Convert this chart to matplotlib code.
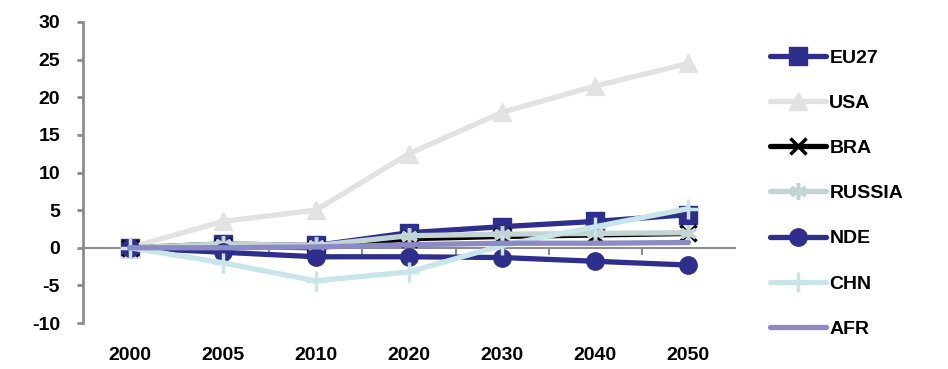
import matplotlib

matplotlib.use("Agg")
import matplotlib.pyplot as plt

plt.rcParams["font.family"] = ["Liberation Sans", "DejaVu Sans"]
plt.rcParams["font.weight"] = "bold"
plt.rcParams["axes.unicode_minus"] = False

years = ["2000", "2005", "2010", "2020", "2030", "2040", "2050"]

eu27 = [0, 0.5, 0.3, 2.0, 2.8, 3.5, 4.4]
usa = [0, 3.5, 5.0, 12.5, 18.0, 21.5, 24.5]
bra = [0, 0.2, 0.0, 1.2, 1.5, 1.7, 1.9]
russia = [0, 0.5, 0.3, 1.6, 1.8, 1.9, 2.0]
nde = [0, -0.6, -1.2, -1.2, -1.3, -1.8, -2.3]
chn = [0, -2.0, -4.4, -3.2, 0.3, 2.8, 5.2]
afr = [0, 0.0, 0.1, 0.4, 0.6, 0.6, 0.7]

# name, values, colour, marker, marker size
series = [
    ("EU27", eu27, "#2e2e8c", "s", 12.5),
    ("USA", usa, "#e2e2e2", "^", 13),
    ("BRA", bra, "#000000", "x", 11),
    ("RUSSIA", russia, "#c2d4d4", (6, 2, 0), 12),
    ("NDE", nde, "#2e2e8c", "o", 12.5),
    ("CHN", chn, "#c8e6ea", "+", 15),
    ("AFR", afr, "#8c8ac4", None, 0),
]

fig = plt.figure(figsize=(9.48, 3.69), dpi=100)
ax = fig.add_axes([83 / 948, 46 / 369, 652 / 948, 301 / 369])

x = list(range(len(years)))
for i, (name, vals, color, marker, ms) in enumerate(series):
    ax.plot(x, vals, color=color, lw=3.8, marker=marker, ms=ms,
            mew=2.5 if marker in ("x", "+", (6, 2, 0)) else 1,
            mec=color, mfc=color, label=name, zorder=3 + i,
            solid_capstyle="round")

ax.set_xlim(-0.5, len(years) - 0.5)
ax.set_ylim(-10, 30)
ax.set_yticks(range(-10, 31, 5))

grey = "#8c8c8c"
for side in ("top", "right", "bottom"):
    ax.spines[side].set_visible(False)
ax.spines["left"].set_color(grey)
ax.spines["left"].set_linewidth(2)
ax.tick_params(axis="y", colors=grey, width=2, length=4.5, pad=12,
               labelcolor="black", labelsize=14)
ax.set_xticks(x)
ax.set_xticklabels(years)
ax.tick_params(axis="x", length=0, pad=17, labelsize=14)

# category axis drawn through zero with ticks between categories
zero_axis = ax.secondary_xaxis(0.25)
zero_axis.set_xticks([i + 0.5 for i in x[:-1]])
zero_axis.tick_params(axis="x", direction="out", length=5, width=1.5,
                      colors=grey, labelbottom=False, labeltop=False)
zero_axis.spines["bottom"].set_color(grey)
zero_axis.spines["bottom"].set_linewidth(1.5)
zero_axis.spines["bottom"].set_zorder(2)

fig.legend(loc="upper left", bbox_to_anchor=(770 / 948, 1 - 49 / 369),
           frameon=False, fontsize=14, handlelength=2.9, handletextpad=0.15,
           labelspacing=1.42, borderaxespad=0, borderpad=0)

fig.savefig("out.png", dpi=100)
